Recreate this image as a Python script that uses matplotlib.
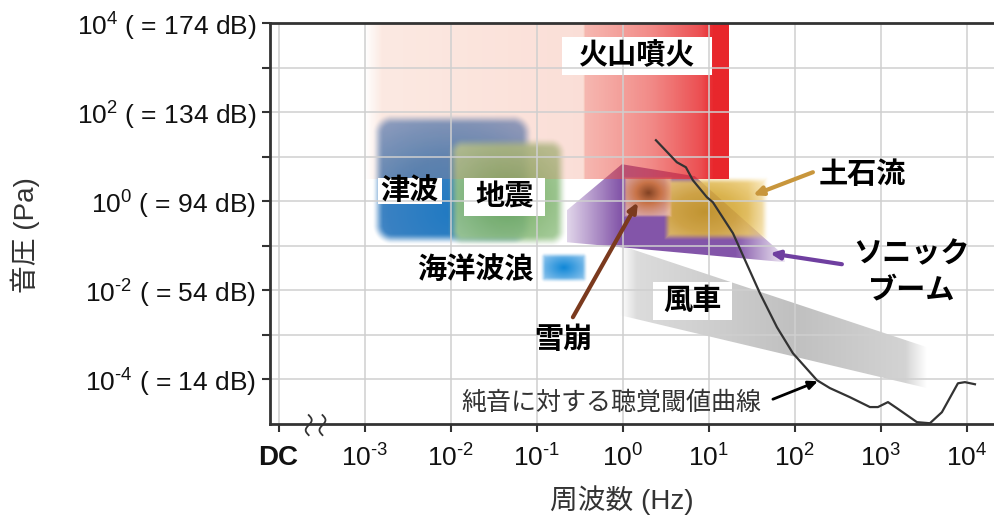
import numpy as np
import matplotlib
matplotlib.use("Agg")
import matplotlib.pyplot as plt
from matplotlib.patches import Polygon, Rectangle

# ---------------- data ----------------
x_tick_exp = [-3, -2, -1, 0, 1, 2, 3, 4]
y_tick_exp = [-4, -2, 0, 2, 4]
y_tick_db = [14, 54, 94, 134, 174]

volcano_hz = [1.0e-3, 0.355, 16.7]      # faint start, strong start, end
volcano_pa = [3.1, 1.0e4]
tsunami_hz = [1.22e-3, 0.0906]
tsunami_pa = [0.103, 94.4]
quake_hz = [9.06e-3, 0.225]
quake_pa = [0.0929, 27.3]
ocean_hz = [0.109, 0.385]
ocean_pa = [0.0144, 0.068]
avalanche_hz = [1.0, 3.74]
avalanche_pa = [0.416, 3.64]
debris_hz = [2.94, 49.0]
debris_pa = [0.126, 3.46]
sonic_hz = [0.225, 0.98, 6.93, 77.0, 77.0, 0.225]
sonic_pa = [0.628, 6.77, 3.64, 0.0583, 0.0428, 0.120]
wind_hz = [0.93, 3450, 3450, 0.93]
wind_pa = [0.103, 5.3e-4, 6.4e-5, 2.77e-3]
threshold_hz = [2.44, 4.27, 5.44, 6.56, 9.55, 11.2, 19.2, 39.5, 62.3, 95.5, 182, 257,
                439, 751, 931, 1217, 1549, 2645, 3743, 5160, 7925, 9550, 12500]
threshold_pa = [23.4, 7.50, 5.79, 2.96, 1.23, 0.95, 0.191, 8.6e-3, 1.49e-3, 3.88e-4,
                9.6e-5, 6.4e-5, 4.0e-5, 2.4e-5, 2.4e-5, 3.1e-5, 2.26e-5, 1.1e-5,
                1.04e-5, 1.84e-5, 8.2e-5, 8.7e-5, 7.8e-5]

# ---------------- style ----------------
plt.rcParams['font.family'] = ['Liberation Sans', 'Noto Sans CJK JP']
plt.rcParams['mathtext.fontset'] = 'custom'
plt.rcParams['mathtext.rm'] = 'Liberation Sans'
plt.rcParams['mathtext.it'] = 'Liberation Sans:italic'
plt.rcParams['mathtext.bf'] = 'Liberation Sans:bold'

W, H = 995, 516
fig = plt.figure(figsize=(W / 100, H / 100), dpi=100)
ax = fig.add_axes([270 / W, 92 / H, 725 / W, 401 / H])
XL = (-4.1, 4.33)
YL = (-5.0, 4.0)
SX = 725 / (XL[1] - XL[0])
SY = 401 / (YL[1] - YL[0])


def L(v):
    return np.log10(np.asarray(v, dtype=float))


def box_grid(x0, x1, y0, y1):
    w = max(int(round((x1 - x0) * SX)), 2)
    h = max(int(round((y1 - y0) * SY)), 2)
    PX, PY = np.meshgrid(np.arange(w) + 0.5, np.arange(h) + 0.5)
    return PX, PY, w, h


def rrect_alpha(PX, PY, w, h, r, blur):
    qx = np.abs(PX - w / 2) - (w / 2 - r)
    qy = np.abs(PY - h / 2) - (h / 2 - r)
    d = np.hypot(np.maximum(qx, 0), np.maximum(qy, 0)) + np.minimum(np.maximum(qx, qy), 0) - r
    t = np.clip(-d / blur, 0, 1)
    return t * t * (3 - 2 * t)


def ramp(t, stops, cols):
    cols = np.array(cols, dtype=float) / 255.0
    return np.dstack([np.interp(t, stops, cols[:, k]) for k in range(3)])


def show(rgb, alpha, ext, z, clip=None):
    img = np.dstack([rgb, np.clip(alpha, 0, 1)])
    im = ax.imshow(img, extent=ext, origin='upper', aspect='auto',
                   interpolation='bilinear', zorder=z)
    if clip is not None:
        im.set_clip_path(clip)
    return im


# ---- wind turbine band ----
wx, wy = L(wind_hz), L(wind_pa)
x0, x1, y0, y1 = wx.min(), wx.max(), wy.min(), wy.max()
PX, PY, w, h = box_grid(x0, x1, y0, y1)
Xc = x0 + PX / SX
rgb = ramp(np.abs(Xc - 2.0) / 2.0, [0, 0.5, 1], [(192, 192, 192), (207, 207, 207), (222, 222, 222)])
a = np.interp(Xc, [x0, x0 + 0.2, x1 - 0.25, x1], [0.0, 1.0, 1.0, 0.0])
wpoly = Polygon(np.column_stack([wx, wy]), closed=True, transform=ax.transData)
show(rgb, a, (x0, x1, y0, y1), 1.0, wpoly)

# ---- tsunami ----
tx, ty = L(tsunami_hz), L(tsunami_pa)
PX, PY, w, h = box_grid(tx[0], tx[1], ty[0], ty[1])
rr = np.hypot((PX - 0.5 * w) / w, (PY - 0.75 * h) / h)
rgb = ramp(rr, [0, 0.4, 0.8], [(25, 118, 192), (50, 125, 192), (115, 158, 210)])
a = rrect_alpha(PX, PY, w, h, 20, 12) * 0.97
show(rgb, a, (tx[0], tx[1], ty[0], ty[1]), 1.1)

# ---- earthquake ----
qx, qy = L(quake_hz), L(quake_pa)
PX, PY, w, h = box_grid(qx[0], qx[1], qy[0], qy[1])
rr = np.hypot((PX - 0.5 * w) / w, (PY - 0.55 * h) / h)
rgb = ramp(rr, [0, 0.7], [(105, 165, 85), (175, 210, 165)])
a = rrect_alpha(PX, PY, w, h, 16, 12) * 0.93
show(rgb, a, (qx[0], qx[1], qy[0], qy[1]), 1.2)

# ---- ocean waves ----
ox, oy = L(ocean_hz), L(ocean_pa)
PX, PY, w, h = box_grid(ox[0], ox[1], oy[0], oy[1])
rr = np.hypot((PX - 0.5 * w) / w, (PY - 0.5 * h) / h)
rgb = ramp(rr, [0, 0.6], [(15, 135, 215), (150, 200, 238)])
a = rrect_alpha(PX, PY, w, h, 5, 6)
show(rgb, a, (ox[0], ox[1], oy[0], oy[1]), 1.2)

# ---- sonic boom ----
sx, sy = L(sonic_hz), L(sonic_pa)
x0, x1, y0, y1 = sx.min(), sx.max(), sy.min(), sy.max()
PX, PY, w, h = box_grid(x0, x1, y0, y1)
Xc = x0 + PX / SX
rgb = ramp(Xc, [x0, x1], [(120, 70, 162), (120, 70, 162)])
a = np.interp(Xc, [x0, x0 + 0.62, 1.31, x1], [0.22, 0.92, 0.92, 0.12])
spoly = Polygon(np.column_stack([sx, sy]), closed=True, transform=ax.transData)
show(rgb, a, (x0, x1, y0, y1), 1.3, spoly)

# ---- debris flow ----
dx, dy = L(debris_hz), L(debris_pa)
PX, PY, w, h = box_grid(dx[0], dx[1], dy[0], dy[1])
rr = np.hypot((PX - 0.4 * w) / w, (PY - 0.55 * h) / h)
rgb = ramp(rr, [0, 0.3, 0.75], [(200, 155, 35), (215, 172, 60), (248, 220, 150)])
a = rrect_alpha(PX, PY, w, h, 3, 8) * 0.9 * np.interp(PX / w, [0.8, 1.0], [1.0, 0.55])
show(rgb, a, (dx[0], dx[1], dy[0], dy[1]), 1.4)

# ---- avalanche ----
vx, vy = L(avalanche_hz), L(avalanche_pa)
PX, PY, w, h = box_grid(vx[0], vx[1], vy[0], vy[1])
rr = np.hypot((PX - 0.51 * w) / w, (PY - 0.4 * h) / h)
rgb = ramp(rr, [0, 0.25, 0.6], [(130, 65, 28), (210, 120, 60), (240, 190, 170)])
a = rrect_alpha(PX, PY, w, h, 2, 4) * np.interp(rr, [0, 0.6], [0.95, 0.8])
show(rgb, a, (vx[0], vx[1], vy[0], vy[1]), 1.5)

# ---- volcano ----
kx, ky = L(volcano_hz), L(volcano_pa)
PX, PY, w, h = box_grid(kx[0], kx[2], ky[0], ky[1])
Xc = kx[0] + PX / SX
rgb = ramp(Xc, [kx[0], kx[1] - 0.01, kx[1], 1.0, kx[2]],
           [(240, 140, 100), (238, 125, 95), (236, 95, 80), (232, 40, 45), (232, 38, 43)])
a = np.interp(Xc, [kx[0], kx[0] + 0.2, kx[1] - 0.02, kx[1], 0.32, 0.9, 1.04, kx[2]],
              [0.0, 0.19, 0.25, 0.45, 0.62, 0.84, 1.0, 1.0])
show(rgb, a, (kx[0], kx[2], ky[0], ky[1]), 1.6)

# ---- hearing threshold ----
ax.plot(L(threshold_hz), L(threshold_pa), color='#333333', lw=1.6, zorder=6)

# ---------------- axes ----------------
def sup(e):
    if e < 0:
        return r'$10^{\text{-}%d}$' % (-e)
    return r'$10^{%d}$' % e


ax.set_xlim(*XL)
ax.set_ylim(*YL)
ax.set_xticks([-4] + x_tick_exp)
ax.set_xticklabels(['DC'] + [sup(e) for e in x_tick_exp])
ax.set_yticks(y_tick_exp)
ax.set_yticklabels([sup(e) + ' ( = %d dB)' % d for e, d in zip(y_tick_exp, y_tick_db)])
ax.set_yticks([-3, -1, 1, 3], minor=True)
ax.tick_params(axis='both', which='both', direction='out', length=6, width=1.5,
               color='#333333', labelsize=19, labelcolor='#111111')
ax.tick_params(axis='x', pad=9)
ax.tick_params(axis='y', pad=4)
ax.get_xticklabels()[0].set_fontweight('bold')
ax.get_xticklabels()[0].set_fontsize(20)
ax.set_axisbelow(False)
ax.grid(True, which='major', axis='x', color='#cfcfcf', lw=1.1)
ax.grid(True, which='both', axis='y', color='#cfcfcf', lw=1.1)
for s in ['left', 'bottom', 'top']:
    ax.spines[s].set_color('#333333')
    ax.spines[s].set_linewidth(2)
ax.spines['right'].set_visible(False)
for s in ax.spines.values():
    s.set_zorder(7)


# ---------------- labels ----------------
def boxed(xp, yp, s, bw, bh, fs=21):
    cx, cy = (xp - 278.7) / SX - 4, (201 - yp) / SY
    ax.add_patch(Rectangle((cx - bw / 2 / SX, cy - bh / 2 / SY), bw / SX, bh / SY,
                           fc='white', ec='none', zorder=2))
    ax.text(cx, cy, s, fontsize=fs, fontweight='bold', ha='center', va='center',
            color='black', zorder=8)


def plain(xp, yp, s, fs=21, **kw):
    cx, cy = (xp - 278.7) / SX - 4, (201 - yp) / SY
    kw.setdefault('fontweight', 'bold')
    kw.setdefault('color', 'black')
    ax.text(cx, cy, s, fontsize=fs, ha='center', va='center', zorder=8, **kw)


def arrow(t, h_, col, lw=3):
    tx_, ty_ = (t[0] - 278.7) / SX - 4, (201 - t[1]) / SY
    hx_, hy_ = (h_[0] - 278.7) / SX - 4, (201 - h_[1]) / SY
    ax.annotate('', xy=(hx_, hy_), xytext=(tx_, ty_),
                arrowprops=dict(arrowstyle='-|>,head_length=0.55,head_width=0.25',
                                color=col, lw=lw, shrinkA=0, shrinkB=0), zorder=8)


boxed(637, 56, '火山噴火', 150, 38)
boxed(410, 191, '津波', 64, 26)
boxed(505, 197, '地震', 81, 38)
boxed(693, 301, '風車', 79, 38)
plain(475, 271, '海洋波浪')
plain(862, 175, '土石流')
plain(912, 272, 'ソニック\nブーム', linespacing=1.35)
plain(563, 340, '雪崩')
plain(611, 403, '純音に対する聴覚閾値曲線', fs=18, fontweight='normal', color='#333333')

arrow((813, 172), (753, 195), '#C8963C')
arrow((842, 264), (770, 253), '#6F3FA0')
arrow((573, 317), (638, 202), '#7B3A1E')
arrow((773, 399), (818, 381), 'black', lw=2)

# axis break marks near DC
tt = np.linspace(0, 1, 40)
for xb in (-3.65, -3.49):
    ax.plot(xb + 0.035 * np.sin(tt * 2 * np.pi), -4.8 - 0.45 * tt, color='#333333',
            lw=1.3, clip_on=False, zorder=9)

fig.text(622 / W, 1 - 500 / H, '周波数 (Hz)', ha='center', va='center', fontsize=20, color='#333333')
fig.text(25 / W, 1 - 235 / H, '音圧 (Pa)', ha='center', va='center', rotation=90,
         fontsize=20, color='#333333')

fig.savefig('out.png', dpi=100)
